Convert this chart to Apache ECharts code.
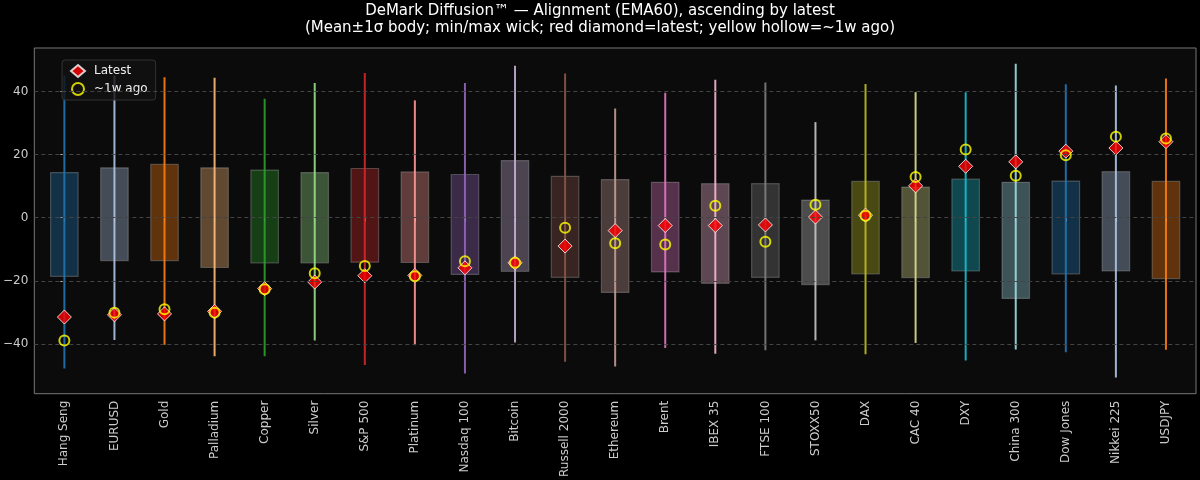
<!DOCTYPE html>
<html>
<head>
<meta charset="utf-8">
<script src="https://cdn.jsdelivr.net/npm/echarts@6/dist/echarts.min.js"></script>
<style>
  html, body { margin: 0; padding: 0; background: #000; }
  #main { width: 1200px; height: 480px; }
</style>
</head>
<body>
<div id="main"></div>
<script>
// categories sorted ascending by latest reading
var categories = ['Hang Seng', 'EURUSD', 'Gold', 'Palladium', 'Copper', 'Silver', 'S&P 500', 'Platinum',
  'Nasdaq 100', 'Bitcoin', 'Russell 2000', 'Ethereum', 'Brent', 'IBEX 35', 'FTSE 100', 'STOXX50',
  'DAX', 'CAC 40', 'DXY', 'China 300', 'Dow Jones', 'Nikkei 225', 'USDJPY'];
var latest  = [-31.5, -30.8, -30.5, -29.7, -22.5, -20.4, -18.4, -18.3, -15.9, -14.3, -9.0, -4.1,
  -2.5, -2.5, -2.3, 0.2, 0.8, 10.1, 16.3, 17.7, 21.1, 22.1, 24.1];
var weekAgo = [-38.9, -30.1, -29.0, -30.1, -22.7, -17.6, -15.3, -18.6, -13.8, -14.3, -3.2, -8.1,
  -8.5, 3.8, -7.6, 4.1, 0.6, 12.9, 21.6, 13.3, 19.8, 25.7, 25.1];
var bodyLow  = [-18.6, -13.6, -13.6, -15.8, -14.3, -14.3, -14.1, -14.2, -18.0, -17.0, -18.9, -23.7,
  -17.2, -20.8, -18.9, -21.2, -17.8, -19.0, -16.9, -25.6, -17.8, -16.9, -19.3];
var bodyHigh = [14.3, 15.8, 16.9, 15.8, 15.1, 14.3, 15.6, 14.5, 13.7, 18.1, 13.1, 12.1,
  11.2, 10.8, 10.8, 5.6, 11.5, 9.7, 12.2, 11.2, 11.6, 14.6, 11.5];
var wickMin = [-47.8, -38.8, -40.4, -43.9, -43.9, -38.9, -46.7, -40.4, -49.4, -39.6, -45.7, -47.2,
  -41.3, -43.1, -42.0, -38.9, -43.3, -39.7, -45.3, -41.8, -42.7, -50.7, -41.9];
var wickMax = [45.1, 45.1, 44.5, 44.4, 37.7, 42.7, 45.9, 37.2, 42.7, 48.2, 45.7, 34.6,
  39.6, 43.7, 42.9, 30.3, 42.4, 39.8, 39.8, 48.8, 42.3, 41.9, 44.1];
var yTicks = [-40, -20, 0, 20, 40];

var palette = ['#1f77b4', '#aec7e8', '#ff7f0e', '#ffbb78', '#2ca02c', '#98df8a', '#d62728', '#ff9896',
  '#9467bd', '#c5b0d5', '#8c564b', '#c49c94', '#e377c2', '#f7b6d2', '#7f7f7f', '#c7c7c7',
  '#bcbd22', '#dbdb8d', '#17becf', '#9edae5'];

function withAlpha(hex, a) {
  var r = parseInt(hex.slice(1, 3), 16), g = parseInt(hex.slice(3, 5), 16), b = parseInt(hex.slice(5, 7), 16);
  return 'rgba(' + r + ',' + g + ',' + b + ',' + a + ')';
}

var idx = categories.map(function (c, i) { return i; });
var rangeData = idx.map(function (i) { return [i, wickMin[i], wickMax[i], bodyLow[i], bodyHigh[i]]; });
var latestData = idx.map(function (i) { return [i, latest[i]]; });
var weekData = idx.map(function (i) { return [i, weekAgo[i]]; });

function renderRange(params, api) {
  var x = api.value(0);
  var col = palette[params.dataIndex % palette.length];
  var lo = api.coord([x, api.value(1)]);
  var hi = api.coord([x, api.value(2)]);
  var bLo = api.coord([x, api.value(3)]);
  var bHi = api.coord([x, api.value(4)]);
  var w = api.size([0.55, 0])[0];
  return {
    type: 'group',
    children: [{
      type: 'rect',
      shape: { x: bHi[0] - w / 2, y: bHi[1], width: w, height: bLo[1] - bHi[1] },
      style: { fill: withAlpha(col, 0.35), stroke: 'rgba(210,210,210,0.28)', lineWidth: 1.2 }
    }, {
      type: 'line',
      shape: { x1: hi[0], y1: hi[1], x2: lo[0], y2: lo[1] },
      style: { stroke: withAlpha(col, 0.9), lineWidth: 2 }
    }]
  };
}

var font = 'DejaVu Sans';
var chart = echarts.init(document.getElementById('main'));
chart.setOption({
  backgroundColor: '#000',
  animation: false,
  textStyle: { fontFamily: font },
  title: {
    text: 'DeMark Diffusion™ — Alignment (EMA60), ascending by latest\n(Mean±1σ body; min/max wick; red diamond=latest; yellow hollow=~1w ago)',
    left: 'center',
    top: -2,
    textStyle: { color: '#fff', fontSize: 15, fontWeight: 'normal', fontFamily: font, lineHeight: 17 }
  },
  legend: {
    left: 62, top: 60,
    orient: 'vertical',
    itemGap: 4,
    itemWidth: 14, itemHeight: 12,
    padding: [4, 8, 4, 8],
    backgroundColor: 'rgba(18,18,18,0.8)',
    borderColor: '#333', borderWidth: 1, borderRadius: 3,
    textStyle: { color: '#eee', fontSize: 12, fontFamily: font, padding: [0, 0, 0, 4] },
    data: ['Latest', '~1w ago']
  },
  grid: {
    left: 33, right: 4, top: 48, bottom: 85,
    show: true, backgroundColor: '#0b0b0b', borderColor: '#777', borderWidth: 1
  },
  xAxis: {
    type: 'value',
    min: -0.6, max: 22.6,
    axisLine: { show: false },
    splitLine: { show: false },
    axisTick: { show: true, customValues: idx, length: 4, lineStyle: { color: '#bbb' } },
    axisLabel: {
      customValues: idx,
      rotate: 90,
      color: '#ccc', fontSize: 12, fontFamily: font, margin: 7,
      formatter: function (v) { return categories[Math.round(v)]; }
    }
  },
  yAxis: {
    type: 'value',
    min: -55.8, max: 53.8,
    axisLine: { show: false },
    axisTick: { show: true, customValues: yTicks, length: 4, lineStyle: { color: '#bbb' } },
    axisLabel: {
      customValues: yTicks,
      color: '#ccc', fontSize: 12, fontFamily: font, margin: 6,
      formatter: function (v) { return v < 0 ? '\u2212' + Math.abs(v) : String(v); }
    },
    splitLine: { show: false }
  },
  series: [{
    type: 'custom',
    renderItem: renderRange,
    encode: { x: 0, y: [1, 2, 3, 4] },
    data: rangeData,
    z: 2
  }, {
    // horizontal dashed grid at the y ticks
    type: 'line',
    data: [],
    markLine: {
      silent: true, symbol: 'none', label: { show: false },
      lineStyle: { color: '#444', type: [4, 3], width: 1 },
      data: yTicks.map(function (t) { return { yAxis: t }; })
    },
    z: 1
  }, {
    name: 'Latest',
    type: 'scatter',
    symbol: 'diamond',
    symbolSize: 14,
    itemStyle: { color: '#ff0000', borderColor: '#fff', borderWidth: 1 },
    data: latestData,
    z: 4
  }, {
    name: '~1w ago',
    type: 'scatter',
    symbol: 'circle',
    symbolSize: 10,
    itemStyle: { color: 'rgba(0,0,0,0)', borderColor: '#ffff00', borderWidth: 2 },
    data: weekData,
    z: 5
  }]
});
</script>
</body>
</html>
